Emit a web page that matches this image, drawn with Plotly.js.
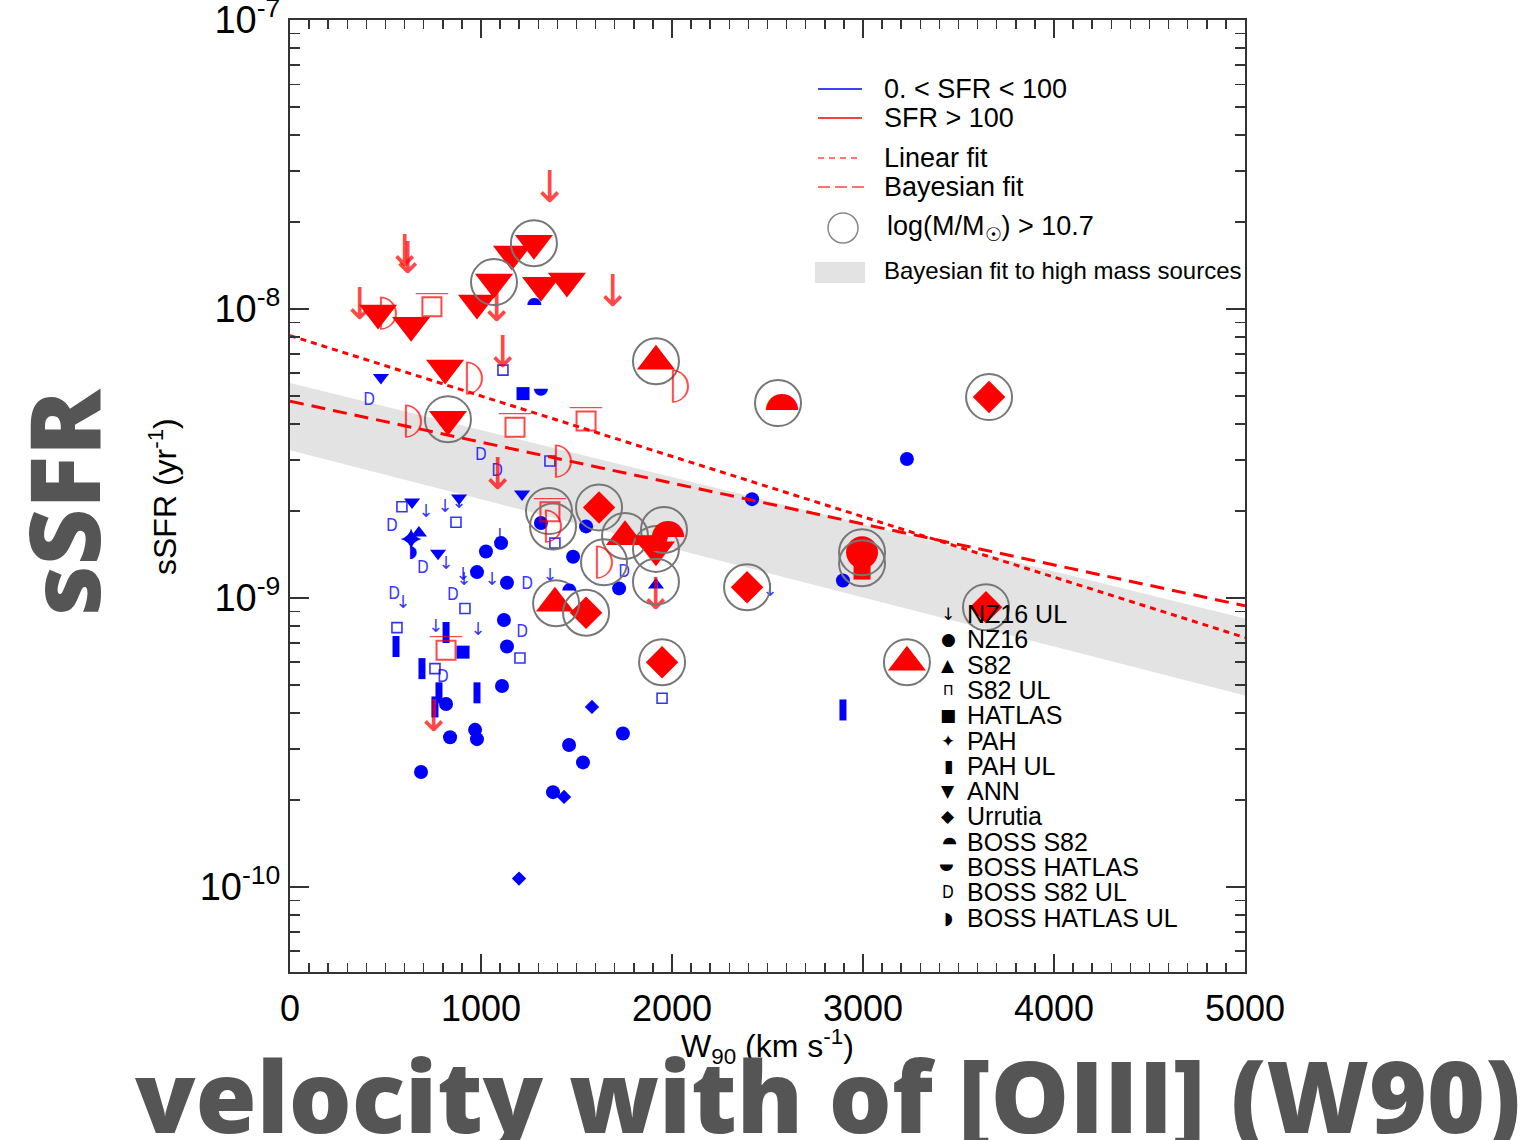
<!DOCTYPE html>
<html>
<head>
<meta charset="utf-8">
<script src="https://cdn.plot.ly/plotly-3.0.1.min.js"></script>
<style>
  html, body { margin: 0; padding: 0; background: #fff; }
  #chart { width: 1527px; height: 1140px; }
</style>
</head>
<body>
<div id="chart"></div>
<script>
// ---- sSFR vs W90 of [OIII]; blue = 0 < SFR < 100, red = SFR > 100 ----

// NZ16 upper limits (arrows)
const nz16UlLoX = [712, 812, 885, 817, 911, 906, 1058, 592, 764, 984, 1361, 1099, 2513];
const nz16UlLoY = [1.98e-9, 2.05e-9, 2.13e-9, 1.31e-9, 1.15e-9, 1.2e-9, 1.15e-9, 9.6e-10, 7.9e-10, 7.75e-10, 1.19e-9, 1.63e-9, 1.05e-9];
const nz16UlHiX = [1361, 602, 618, 366, 1084, 1691, 1115, 1089, 754, 1916];
const nz16UlHiY = [2.56e-8, 1.54e-8, 1.45e-8, 1.01e-8, 9.9e-9, 1.12e-8, 6.9e-9, 2.6e-9, 3.8e-10, 1.0e-9];

// NZ16 detections
const nz16LoX = [1314, 1550, 1105, 1026, 1482, 979, 1136, 1723, 1120, 1136, 1110, 817, 838, 969, 979, 1743, 1461, 1534, 686, 1377, 2419, 2895, 3230];
const nz16LoY = [1.82e-9, 1.77e-9, 1.55e-9, 1.45e-9, 1.39e-9, 1.23e-9, 1.13e-9, 1.08e-9, 8.4e-10, 6.8e-10, 4.96e-10, 4.3e-10, 3.3e-10, 3.5e-10, 3.25e-10, 3.4e-10, 3.1e-10, 2.7e-10, 2.5e-10, 2.13e-10, 2.2e-9, 1.15e-9, 3.03e-9];
const nz16HiX = [2995];
const nz16HiY = [1.44e-9];

// S82
const s82LoX = [675, 1916];
const s82LoY = [1.68e-9, 1.11e-9];
const s82HiX = [1916, 1754, 1387, 3230];
const s82HiY = [6.6e-9, 1.63e-9, 9.6e-10, 6.0e-10];

// S82 upper limits
const s82UlLoX = [1115, 1361, 586, 869, 1387, 916, 560, 1204, 759, 1948];
const s82UlLoY = [6.15e-9, 2.98e-9, 2.07e-9, 1.83e-9, 1.55e-9, 9.2e-10, 7.9e-10, 6.2e-10, 5.7e-10, 4.5e-10];
const s82UlHiX = [743, 1178, 1550, 817, 1361];
const s82UlHiY = [1.02e-8, 3.9e-9, 4.1e-9, 6.6e-10, 1.99e-9];

// HATLAS
const hatlasLoX = [1220, 906];
const hatlasLoY = [5.1e-9, 6.5e-10];
const hatlasHiX = [2995];
const hatlasHiY = [1.24e-9];

// PAH and PAH upper limits
const pahLoX = [634];
const pahLoY = [1.6e-9];
const pahUlLoX = [555, 817, 691, 979, 780, 759, 2895];
const pahUlLoY = [6.8e-10, 7.6e-10, 5.7e-10, 4.7e-10, 4.7e-10, 4.2e-10, 4.1e-10];

// ANN
const annLoX = [476, 639, 885, 1215, 775];
const annLoY = [5.8e-9, 2.15e-9, 2.22e-9, 2.29e-9, 1.43e-9];
const annHiX = [461, 634, 979, 1068, 1162, 1277, 1314, 1450, 812, 827, 1916];
const annHiY = [9.7e-9, 8.8e-9, 1.05e-8, 1.24e-8, 1.55e-8, 1.69e-8, 1.21e-8, 1.25e-8, 6.25e-9, 4.16e-9, 1.47e-9];

// Urrutia
const urrutiaLoX = [1581, 1435, 1199];
const urrutiaLoY = [4.2e-10, 2.05e-10, 1.07e-10];
const urrutiaHiX = [1618, 1550, 2393, 1948, 3660, 3644];
const urrutiaHiY = [2.06e-9, 8.9e-10, 1.09e-9, 6.0e-10, 4.96e-9, 9.3e-10];

// BOSS S82 / BOSS HATLAS
const bossS82LoX = [1272, 1450];
const bossS82LoY = [1.06e-8, 1.09e-9];
const bossS82HiX = [2555, 1958];
const bossS82HiY = [4.73e-9, 1.72e-9];
const bossHatlasLoX = [1325];
const bossHatlasLoY = [5.2e-9];
const bossHatlasHiX = [1916];
const bossHatlasHiY = [1.56e-9];

// BOSS S82 upper limits / BOSS HATLAS upper limits
const bossS82UlLoX = [414, 1000, 1084, 534, 696, 1241, 545, 853, 1215, 801, 1749];
const bossS82UlLoY = [4.8e-9, 3.1e-9, 2.73e-9, 1.76e-9, 1.26e-9, 1.11e-9, 1.03e-9, 1.02e-9, 7.6e-10, 5.3e-10, 1.22e-9];
const bossS82UlHiX = [513, 963, 644, 1429, 2037, 1377, 1644];
const bossS82UlHiY = [9.7e-9, 5.8e-9, 4.1e-9, 2.98e-9, 5.4e-9, 1.77e-9, 1.33e-9];
const bossHatlasUlLoX = [644];
const bossHatlasUlLoY = [1.43e-9];

// sources with log(M/Msun) > 10.7
const massiveX = [1068, 1277, 827, 1916, 2555, 3660, 1356, 1377, 1618, 1754, 1958, 1916, 1644, 1916, 1393, 1550, 2393, 1948, 2995, 2995, 3644, 3230];
const massiveY = [1.24e-8, 1.69e-8, 4.16e-9, 6.6e-9, 4.73e-9, 4.96e-9, 2.0e-9, 1.77e-9, 2.06e-9, 1.64e-9, 1.72e-9, 1.48e-9, 1.33e-9, 1.14e-9, 9.6e-10, 8.9e-10, 1.09e-9, 6.0e-10, 1.44e-9, 1.32e-9, 9.3e-10, 6.0e-10];

// fits
const fitX = [0, 5000];
const linearFitY = [8.1e-9, 7.3e-10];
const bayesFitY = [4.8e-9, 9.4e-10];
const bandLowY = [3.25e-9, 4.6e-10];
const bandHighY = [5.55e-9, 8.5e-10];

// axis ticks
const xTicks = [0, 1000, 2000, 3000, 4000, 5000];
const yTickVals = [1e-10, 1e-9, 1e-8, 1e-7];
const yTickText = ['10<sup>-10</sup>', '10<sup>-9</sup>', '10<sup>-8</sup>', '10<sup>-7</sup>'];

// legend entries
const lineLegend = ['0. < SFR < 100', 'SFR > 100', 'Linear fit', 'Bayesian fit', 'log(M/M<sub>☉</sub>) > 10.7', 'Bayesian fit to high mass sources'];
const symbolLegend = ['NZ16 UL', 'NZ16', 'S82', 'S82 UL', 'HATLAS', 'PAH', 'PAH UL', 'ANN', 'Urrutia', 'BOSS S82', 'BOSS HATLAS', 'BOSS S82 UL', 'BOSS HATLAS UL'];
const symbolGlyphs = ['↓', '●', '▲', 'Π', '■', '✦', '▮', '▼', '◆', '◗', '◗', 'D', '◗'];
const symbolAngles = [0, 0, 0, 0, 0, 0, 0, 0, 0, -90, 90, 0, 0];

const RED = '#ff0000';
const BLUE = '#0000ff';
const RED_THIN = 'rgba(255,0,0,0.72)';
const BLUE_THIN = 'rgba(0,0,255,0.8)';
const CONDENSED = 'DejaVu Sans Condensed, DejaVu Sans, sans-serif';

function markers(x, y, symbol, size, color, lineWidth) {
  const open = symbol.indexOf('open') >= 0 || symbol.indexOf('line') === 0;
  return {
    x: x, y: y, type: 'scatter', mode: 'markers', hoverinfo: 'skip', cliponaxis: false,
    marker: {
      symbol: symbol, size: size, color: color,
      line: { color: color, width: open ? (lineWidth || 2) : 0 }
    }
  };
}

function glyphs(x, y, glyph, size, color, condensed) {
  const font = { size: size, color: color, family: condensed ? CONDENSED : 'DejaVu Sans' };
  if (condensed) font.stretch = 'condensed';
  return {
    x: x, y: y, type: 'scatter', mode: 'text', hoverinfo: 'skip', cliponaxis: false,
    text: x.map(() => glyph), textposition: 'middle center', textfont: font
  };
}

// upper-limit box with a capping bar above it
function cappedBoxes(x, y, size, color) {
  const t = markers(x, y, 'square-open', size, color, 2);
  t.mode = 'markers+text';
  t.text = x.map(() => '____');
  t.textposition = 'top center';
  t.textfont = { family: 'DejaVu Sans', size: 16, color: color };
  return t;
}

const traces = [
  // shaded Bayesian fit to high mass sources
  { x: fitX, y: bandLowY, type: 'scatter', mode: 'lines', line: { width: 0, color: 'rgba(0,0,0,0)' }, hoverinfo: 'skip' },
  { x: fitX, y: bandHighY, type: 'scatter', mode: 'lines', fill: 'tonexty', fillcolor: '#e3e3e3', line: { width: 0, color: 'rgba(0,0,0,0)' }, hoverinfo: 'skip' },

  // low SFR sample (blue)
  glyphs(nz16UlLoX, nz16UlLoY, '↓', 18, BLUE_THIN),
  markers(nz16LoX, nz16LoY, 'circle', 14, BLUE),
  markers(s82LoX, s82LoY, 'triangle-up', 14, BLUE),
  markers(s82UlLoX, s82UlLoY, 'square-open', 10, BLUE_THIN, 1.6),
  markers(hatlasLoX, hatlasLoY, 'square', 13, BLUE),
  markers(pahLoX, pahLoY, 'star-diamond', 15, BLUE),
  markers(pahUlLoX, pahUlLoY, 'line-ns', 15, BLUE, 7),
  markers(annLoX, annLoY, 'triangle-down', 14, BLUE),
  markers(urrutiaLoX, urrutiaLoY, 'diamond', 11, BLUE),
  glyphs(bossS82UlLoX, bossS82UlLoY, 'D', 17, BLUE_THIN, true),
  glyphs(bossHatlasUlLoX, bossHatlasUlLoY, '◗', 17, BLUE),

  // high SFR sample (red)
  glyphs(nz16UlHiX, nz16UlHiY, '↓', 44, RED_THIN),
  cappedBoxes(s82UlHiX, s82UlHiY, 19, RED_THIN),
  markers(nz16HiX, nz16HiY, 'circle', 32, RED),
  markers(hatlasHiX, hatlasHiY, 'square', 17, RED),
  markers(annHiX, annHiY, 'triangle-down', 33, RED),
  markers(s82HiX, s82HiY, 'triangle-up', 33, RED),
  markers(urrutiaHiX, urrutiaHiY, 'diamond', 25, RED),

  // massive hosts
  markers(massiveX, massiveY, 'circle-open', 46, '#777777', 2),

  // fits
  { x: fitX, y: linearFitY, type: 'scatter', mode: 'lines', hoverinfo: 'skip', line: { color: RED, width: 3, dash: '6px,5px' } },
  { x: fitX, y: bayesFitY, type: 'scatter', mode: 'lines', hoverinfo: 'skip', line: { color: RED, width: 3, dash: '14px,8px' } }
];

// rotated glyph symbols placed on the data axes:
// BOSS S82 = top half disc, BOSS HATLAS = bottom half disc, BOSS S82 UL (high SFR) = open half disc
const annotations = [];
function rotatedGlyphs(x, y, glyph, angle, size, color, shift) {
  x.forEach((xv, i) => {
    annotations.push({
      x: xv, y: Math.log10(y[i]), xref: 'x', yref: 'y', showarrow: false,
      xanchor: 'center', yanchor: 'middle', xshift: shift || 0,
      text: glyph, textangle: angle, font: { family: 'DejaVu Sans', size: size, color: color }
    });
  });
}
rotatedGlyphs(bossS82LoX, bossS82LoY, '◗', -90, 18, BLUE);
rotatedGlyphs(bossHatlasLoX, bossHatlasLoY, '◗', 90, 18, BLUE);
rotatedGlyphs(bossS82HiX, bossS82HiY, '◗', -90, 42, RED);
rotatedGlyphs(bossHatlasHiX, bossHatlasHiY, '◗', 90, 42, RED);
rotatedGlyphs(bossS82UlHiX, bossS82UlHiY, '⌓', 90, 46, RED_THIN, 8);

// plot frame in pixels -> paper coordinates
const PX0 = 290, PX1 = 1245, PY0 = 20, PY1 = 972;
const px = v => (v - PX0) / (PX1 - PX0);
const py = v => (PY1 - v) / (PY1 - PY0);

function label(xp, yp, text, font, extra) {
  annotations.push(Object.assign({
    xref: 'paper', yref: 'paper', x: px(xp), y: py(yp), showarrow: false,
    xanchor: 'center', yanchor: 'middle', text: text, font: font
  }, extra || {}));
}

// axis titles
label(163, 497, 'sSFR (yr<sup>-1</sup>)', { family: 'Liberation Sans', size: 32, color: '#000' }, { textangle: -90 });
label(767, 1046, 'W<sub>90</sub> (km s<sup>-1</sup>)', { family: 'Liberation Sans', size: 32, color: '#000' });

// large slide captions
label(62, 502, 'sSFR', { family: 'Open Sans', size: 98, weight: 800, color: '#555555' }, { textangle: -90 });
label(828, 1094, 'velocity with of [OIII] (W90)', { family: 'Open Sans', size: 99, weight: 800, color: '#555555' });

// line legend
const lineRows = [89, 118, 158, 187, 228, 271];
lineLegend.forEach((t, i) => {
  label(i === 4 ? 885 : 882, lineRows[i], t,
    { family: 'Liberation Sans', size: i === 5 ? 24 : 27, color: '#000' }, { xanchor: 'left' });
});

// symbol legend
const symRow0 = 614, symStep = 25.3;
symbolLegend.forEach((t, i) => {
  const yy = symRow0 + i * symStep;
  label(965, yy, t, { family: 'Liberation Sans', size: 25, color: '#000' }, { xanchor: 'left' });
  const f = { family: i === 11 ? CONDENSED : 'DejaVu Sans', size: i === 3 ? 14 : 17, color: '#000' };
  label(948, yy, symbolGlyphs[i], f, { textangle: symbolAngles[i] });
});

const shapes = [
  { type: 'line', xref: 'paper', yref: 'paper', x0: px(818), x1: px(862), y0: py(89), y1: py(89), line: { color: BLUE, width: 1.5 } },
  { type: 'line', xref: 'paper', yref: 'paper', x0: px(818), x1: px(862), y0: py(118), y1: py(118), line: { color: RED, width: 1.5 } },
  { type: 'line', xref: 'paper', yref: 'paper', x0: px(818), x1: px(862), y0: py(158), y1: py(158), line: { color: RED_THIN, width: 1.5, dash: '6px,5px' } },
  { type: 'line', xref: 'paper', yref: 'paper', x0: px(818), x1: px(864), y0: py(187), y1: py(187), line: { color: RED_THIN, width: 1.5, dash: '12px,5px' } },
  { type: 'circle', xref: 'paper', yref: 'paper', x0: px(828), x1: px(858), y0: py(243), y1: py(213), line: { color: '#888', width: 1.5 } },
  { type: 'rect', xref: 'paper', yref: 'paper', x0: px(815), x1: px(865), y0: py(283), y1: py(262), fillcolor: '#e3e3e3', line: { width: 0 } }
];

const axisCommon = {
  showline: true, linecolor: '#333', linewidth: 2, mirror: 'allticks',
  ticks: 'inside', tickcolor: '#333', tickwidth: 1.5,
  showgrid: false, zeroline: false, ticklabeloverflow: 'allow'
};

const layout = {
  width: 1527, height: 1140,
  margin: { l: PX0, r: 1527 - PX1, t: PY0, b: 1140 - PY1, pad: 0 },
  paper_bgcolor: '#fff', plot_bgcolor: '#fff',
  showlegend: false,
  xaxis: Object.assign({}, axisCommon, {
    range: [0, 5000], tickmode: 'array', tickvals: xTicks, ticklen: 18,
    tickfont: { family: 'Liberation Sans', size: 36, color: '#000' }, ticklabelstandoff: 4,
    minor: { dtick: 100, ticks: 'inside', ticklen: 9, tickwidth: 1.5, tickcolor: '#333', showgrid: false }
  }),
  yaxis: Object.assign({}, axisCommon, {
    type: 'log', range: [-10.294, -6.9995], tickmode: 'array', tickvals: yTickVals, ticktext: yTickText, ticklen: 19,
    tickfont: { family: 'Liberation Sans', size: 38, color: '#000' }, ticklabelstandoff: 0,
    minor: { dtick: 'D1', ticks: 'inside', ticklen: 10, tickwidth: 1.5, tickcolor: '#333', showgrid: false }
  }),
  annotations: annotations,
  shapes: shapes
};

Plotly.newPlot('chart', traces, layout, { staticPlot: true, displayModeBar: false });
</script>
</body>
</html>
